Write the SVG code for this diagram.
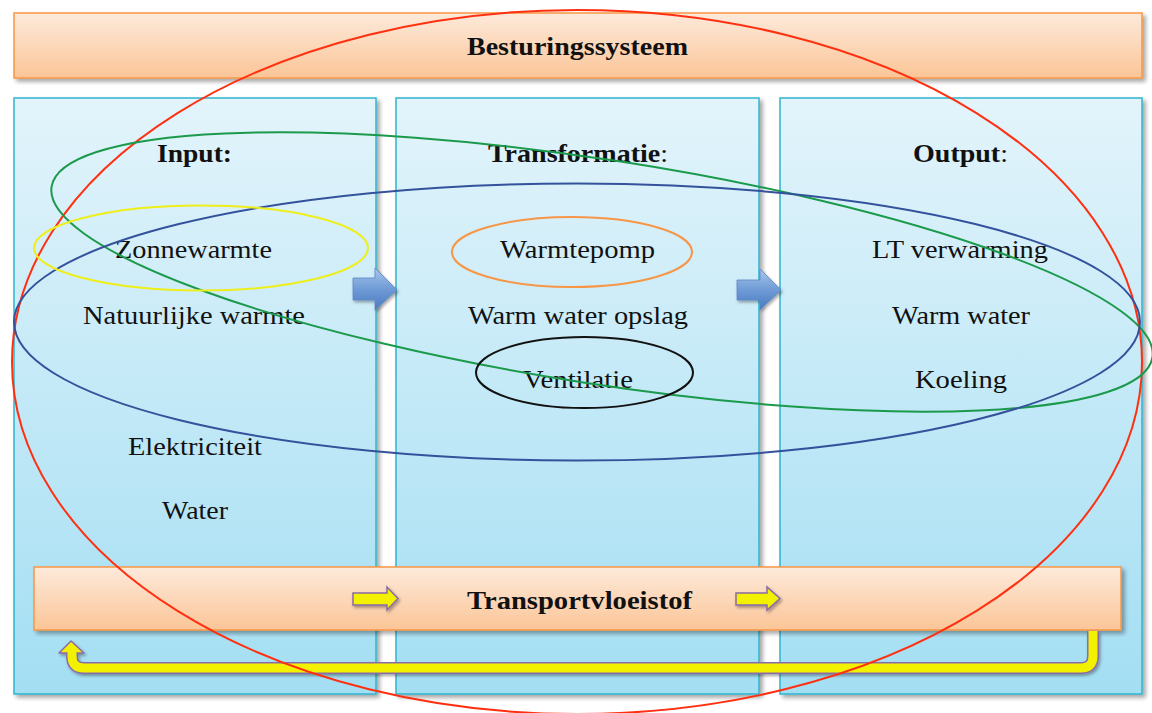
<svg xmlns="http://www.w3.org/2000/svg" width="1152" height="713" viewBox="0 0 1152 713">
<defs>
<linearGradient id="gOrange" x1="0" y1="0" x2="0" y2="1">
<stop offset="0" stop-color="#fdeadb"/>
<stop offset="1" stop-color="#fbc597"/>
</linearGradient>
<linearGradient id="gCol" x1="0" y1="0" x2="0" y2="1">
<stop offset="0" stop-color="#e3f4fb"/>
<stop offset="1" stop-color="#a3def3"/>
</linearGradient>
<linearGradient id="gBlue" x1="0" y1="0" x2="0" y2="1">
<stop offset="0" stop-color="#a9c7ec"/>
<stop offset="0.5" stop-color="#6f9bd6"/>
<stop offset="1" stop-color="#4a7abf"/>
</linearGradient>
<filter id="sh" x="-5%" y="-5%" width="110%" height="115%">
<feDropShadow dx="3" dy="3" stdDeviation="2" flood-color="#000" flood-opacity="0.35"/>
</filter>
<filter id="shs" x="-20%" y="-20%" width="140%" height="160%">
<feDropShadow dx="1.5" dy="2" stdDeviation="1.5" flood-color="#000" flood-opacity="0.35"/>
</filter>
</defs>
<style>
.bar{fill:url(#gOrange);stroke:#f79646;stroke-width:1.5;filter:url(#sh)}
.col{fill:url(#gCol);stroke:#2fb5d0;stroke-width:1.5;filter:url(#sh)}
.t{font-family:"Liberation Serif","Times New Roman",serif;font-size:25px;fill:#111;text-anchor:middle}
.b{font-weight:bold}
.r{font-weight:normal}
.ell{fill:none;stroke-width:2}
.barrow{fill:url(#gBlue);stroke:#5a86c4;stroke-width:0.8;filter:url(#shs)}
.yarrow{fill:#f2f200;stroke:#8a6aa8;stroke-width:1.5;filter:url(#shs)}
</style>
<rect width="1152" height="713" fill="#ffffff"/>

<g id="besturingssysteem">
<rect class="bar" x="14" y="13" width="1128" height="65"/>
<text class="t b" x="577.5" y="55" textLength="221" lengthAdjust="spacingAndGlyphs">Besturingssysteem</text>
</g>

<g id="input">
<rect class="col" x="14" y="98" width="362" height="596"/>
<text class="t b" x="194.5" y="162" textLength="75" lengthAdjust="spacingAndGlyphs">Input:</text>
<text class="t" x="193.5" y="258" textLength="157" lengthAdjust="spacingAndGlyphs">Zonnewarmte</text>
<text class="t" x="194" y="324" textLength="222" lengthAdjust="spacingAndGlyphs">Natuurlijke warmte</text>
<text class="t" x="195" y="455" textLength="134" lengthAdjust="spacingAndGlyphs">Elektriciteit</text>
<text class="t" x="195" y="519" textLength="66" lengthAdjust="spacingAndGlyphs">Water</text>
</g>

<g id="transformatie">
<rect class="col" x="396" y="98" width="363" height="596"/>
<text class="t b" x="578" y="162" textLength="180" lengthAdjust="spacingAndGlyphs">Transformatie<tspan class="r">:</tspan></text>
<text class="t" x="577.5" y="258" textLength="155" lengthAdjust="spacingAndGlyphs">Warmtepomp</text>
<text class="t" x="578" y="324" textLength="220" lengthAdjust="spacingAndGlyphs">Warm water opslag</text>
<text class="t" x="578" y="388" textLength="110" lengthAdjust="spacingAndGlyphs">Ventilatie</text>
</g>

<g id="output">
<rect class="col" x="780" y="98" width="362" height="596"/>
<text class="t b" x="960.5" y="162" textLength="95" lengthAdjust="spacingAndGlyphs">Output<tspan class="r">:</tspan></text>
<text class="t" x="960" y="258" textLength="176" lengthAdjust="spacingAndGlyphs">LT verwarming</text>
<text class="t" x="961" y="324" textLength="138" lengthAdjust="spacingAndGlyphs">Warm water</text>
<text class="t" x="961" y="388" textLength="92" lengthAdjust="spacingAndGlyphs">Koeling</text>
</g>

<g id="transportvloeistof">
<rect class="bar" x="34" y="567" width="1087" height="63"/>
<text class="t b" x="579.5" y="609" textLength="225" lengthAdjust="spacingAndGlyphs">Transportvloeistof</text>
</g>

<g id="connectors">
<polygon class="barrow" points="353,278 375,278 375,268 397,290 375,310 375,300 353,300"/>
<polygon class="barrow" points="737,280 760,280 760,269 781,290 760,310 760,300 737,300"/>
<polygon class="yarrow" points="353,593 387,593 387,587 398,598.5 387,610 387,605 353,605"/>
<polygon class="yarrow" points="736,593 767,593 767,587 780,598.5 767,610 767,605 736,605"/>
<g filter="url(#shs)">
<path d="M1093,631 V656 Q1093,668 1081,668 H84 Q72,668 72,656 V652" fill="none" stroke="#8a6aa8" stroke-width="12"/>
<polygon points="59,653 71,641 84,653" fill="#f2f200" stroke="#8a6aa8" stroke-width="1.5" stroke-linejoin="round"/>
<path d="M1093,631 V656 Q1093,668 1081,668 H84 Q72,668 72,656 V652" fill="none" stroke="#f2f200" stroke-width="9"/>
</g>
</g>

<g id="groupings">
<ellipse class="ell" cx="577" cy="362" rx="565" ry="352" stroke="#ff3010" stroke-width="1.5"/>
<ellipse class="ell" cx="602" cy="272" rx="557" ry="112" transform="rotate(8.8 602 272)" stroke="#1c9a4c"/>
<ellipse class="ell" cx="577" cy="322" rx="563" ry="138.5" stroke="#34529c"/>
<ellipse class="ell" cx="201" cy="248" rx="167" ry="42.5" stroke="#eeee1a"/>
<ellipse class="ell" cx="572" cy="252" rx="120" ry="35" stroke="#f79646"/>
<ellipse class="ell" cx="584.5" cy="372.5" rx="108.5" ry="35.5" stroke="#111111"/>
</g>
</svg>
